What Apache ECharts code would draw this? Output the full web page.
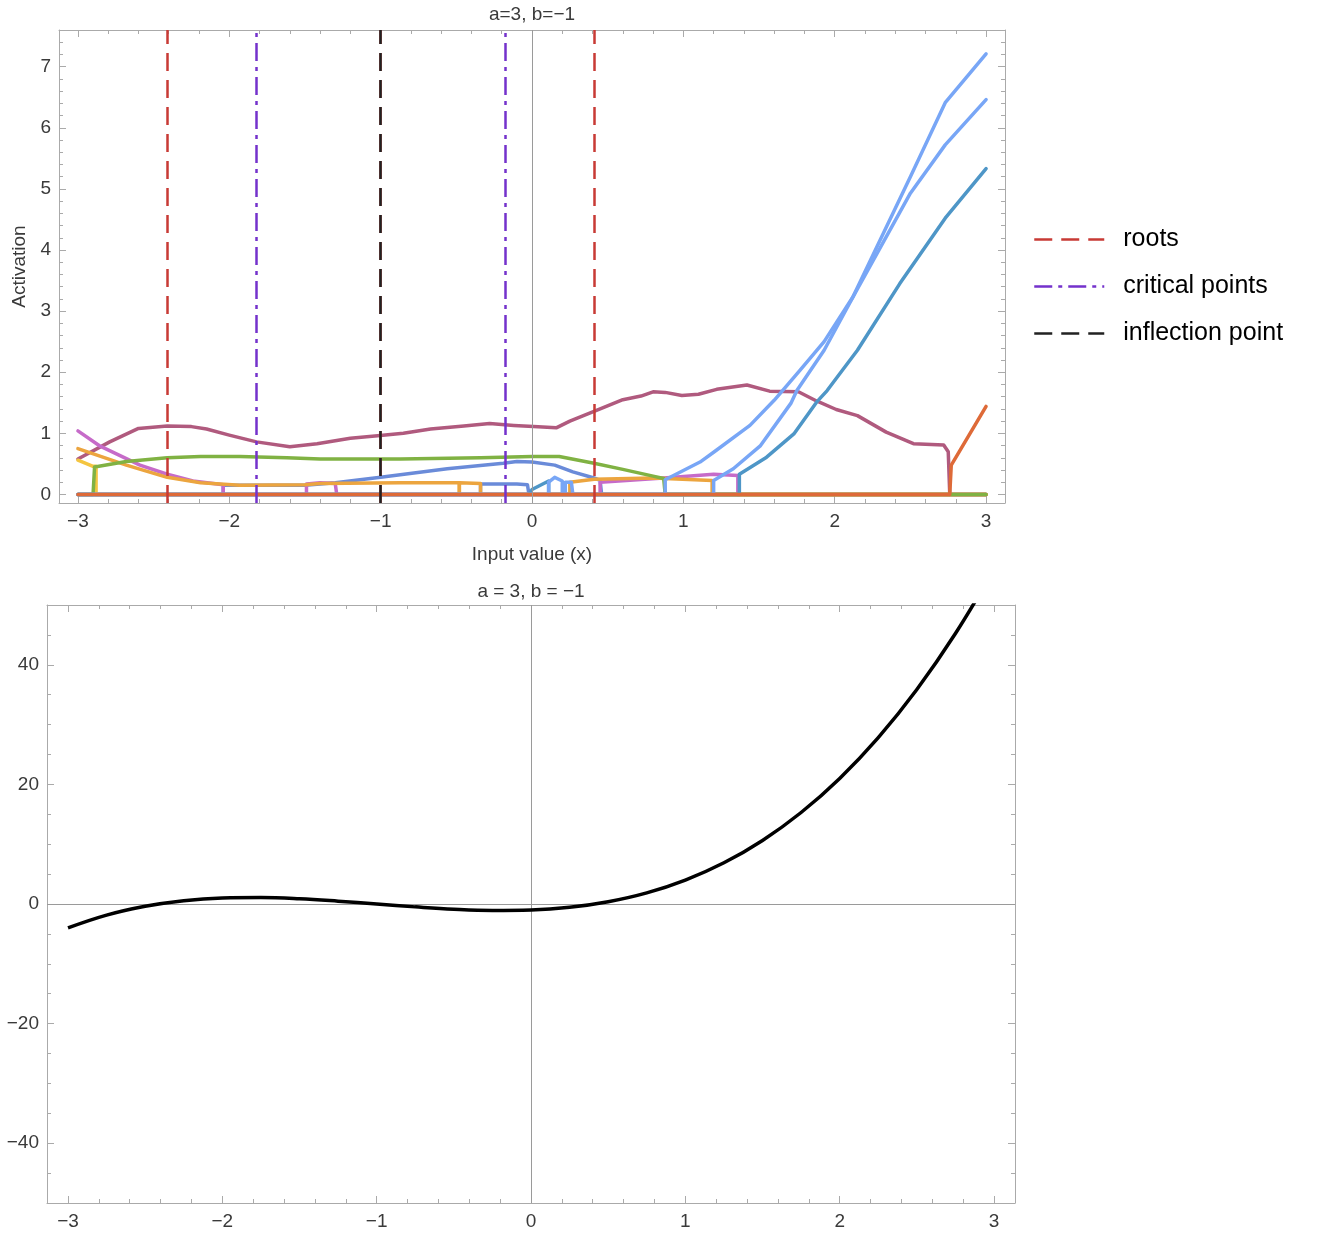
<!doctype html>
<html>
<head>
<meta charset="utf-8">
<title>activation plot</title>
<script src="https://cdn.jsdelivr.net/npm/echarts@6/dist/echarts.min.js"></script>
<style>
  html, body { margin: 0; padding: 0; background: #fff; }
  #main { width: 1318px; height: 1250px; }
</style>
</head>
<body>
<div id="main"></div>
<script>
// tick labels
var xTicks = [-3, -2, -1, 0, 1, 2, 3];
var yTicksTop = [0, 1, 2, 3, 4, 5, 6, 7];
var yTicksBottom = [-40, -20, 0, 20, 40];

// vertical reference lines (a=3, b=-1)
var roots = [-2.414, -1, 0.414];
var criticalPoints = [-1.816, -0.184];
var inflectionPoints = [-1];

// neuron activations, [x, y]
var mauve = [[-3.0, 0.58], [-2.79, 0.86], [-2.6, 1.08], [-2.41, 1.12], [-2.25, 1.11], [-2.15, 1.07], [-2.0, 0.97],
  [-1.82, 0.86], [-1.6, 0.78], [-1.42, 0.83], [-1.2, 0.92], [-1.02, 0.96], [-0.85, 1.0], [-0.67, 1.07], [-0.45, 1.12],
  [-0.28, 1.16], [-0.12, 1.13], [0.01, 1.11], [0.16, 1.09], [0.25, 1.2], [0.43, 1.38], [0.6, 1.55], [0.72, 1.61],
  [0.8, 1.68], [0.88, 1.67], [0.99, 1.62], [1.1, 1.64], [1.22, 1.72], [1.42, 1.79], [1.57, 1.69], [1.76, 1.68],
  [1.88, 1.53], [2.01, 1.39], [2.15, 1.29], [2.34, 1.02], [2.52, 0.83], [2.72, 0.81], [2.75, 0.7], [2.76, 0], [3.0, 0]];
var green = [[-3.0, 0], [-2.9, 0], [-2.89, 0.45], [-2.68, 0.54], [-2.41, 0.6], [-2.19, 0.62], [-1.93, 0.62], [-1.62, 0.6],
  [-1.4, 0.58], [-0.87, 0.58], [-0.34, 0.6], [0.0, 0.62], [0.18, 0.62], [0.41, 0.51], [0.6, 0.41], [0.8, 0.3],
  [0.87, 0.26], [0.88, 0], [3.0, 0]];
var pink = [[-3.0, 1.04], [-2.86, 0.8], [-2.59, 0.48], [-2.41, 0.33], [-2.24, 0.22], [-2.04, 0.16], [-2.04, 0],
  [-1.49, 0], [-1.49, 0.17], [-1.4, 0.19], [-1.3, 0.18], [-1.29, 0], [0.45, 0], [0.45, 0.2], [0.87, 0.27],
  [1.2, 0.33], [1.36, 0.31], [1.36, 0], [3.0, 0]];
var orange = [[-3.0, 0.75], [-2.68, 0.48], [-2.41, 0.28], [-2.19, 0.19], [-1.93, 0.15], [-1.5, 0.16], [-1.4, 0.18],
  [-0.87, 0.19], [-0.48, 0.19], [-0.48, 0], [3.0, 0]];
var orangeB = [[-3.0, 0], [-0.48, 0], [-0.48, 0.19], [-0.34, 0.18], [-0.34, 0], [0.25, 0], [0.25, 0.2], [0.41, 0.25],
  [0.8, 0.27], [1.19, 0.23], [1.19, 0], [3.0, 0]];
var yellow = [[-3.0, 0.56], [-2.9, 0.46], [-2.88, 0.46], [-2.88, 0], [3.0, 0]];
var blue = [[-3.0, 0], [-2.04, 0], [-2.04, 0.15], [-1.5, 0.15], [-1.3, 0.19], [-1.0, 0.28], [-0.56, 0.42],
  [-0.19, 0.51], [-0.1, 0.54], [0.0, 0.53], [0.15, 0.48], [0.27, 0.37], [0.41, 0.27], [0.45, 0.23], [0.46, 0], [3.0, 0]];
var blueB = [[-3.0, 0], [-0.34, 0], [-0.34, 0.17], [-0.1, 0.17], [-0.03, 0.16], [-0.02, 0], [3.0, 0]];
var steel = [[-3.0, 0], [-0.02, 0], [0.0, 0.08], [0.11, 0.22], [0.11, 0], [1.37, 0], [1.37, 0.33], [1.55, 0.61],
  [1.73, 0.99], [1.88, 1.51], [1.95, 1.7], [2.15, 2.36], [2.43, 3.45], [2.73, 4.52], [3.0, 5.33]];
var lightA = [[-3.0, 0], [0.11, 0], [0.11, 0.2], [0.15, 0.28], [0.2, 0.22], [0.2, 0], [0.88, 0], [0.88, 0.24],
  [1.11, 0.53], [1.2, 0.69], [1.44, 1.13], [1.6, 1.54], [1.77, 2.03], [1.93, 2.5], [2.12, 3.23], [2.5, 5.2],
  [2.73, 6.41], [3.0, 7.21]];
var lightB = [[-3.0, 0], [0.22, 0], [0.22, 0.2], [0.26, 0.2], [0.27, 0], [1.2, 0], [1.2, 0.23], [1.33, 0.42],
  [1.51, 0.8], [1.71, 1.49], [1.75, 1.7], [1.93, 2.36], [2.12, 3.23], [2.5, 4.93], [2.73, 5.72], [3.0, 6.46]];
var orangeRed = [[-3.0, 0], [2.76, 0], [2.77, 0.48], [3.0, 1.44]];

// the cubic in the lower panel
var cubicX = [-3, -2.75, -2.5, -2.25, -2, -1.75, -1.5, -1.25, -1, -0.75, -0.5, -0.25, 0,
  0.25, 0.5, 0.75, 1, 1.25, 1.5, 1.75, 2, 2.25, 2.5, 2.75, 3];
var cubicY = [-4, -1.86, -0.38, 0.55, 1, 1.08, 0.88, 0.48, 0, -0.48, -0.88, -1.08, -1,
  -0.55, 0.38, 1.86, 4, 6.89, 10.63, 15.3, 21, 27.83, 35.88, 45.23, 56];

var frameColor = '#aaaaaa';
var labelColor = '#3a3a3a';
var font = 'Liberation Sans, Arial, sans-serif';

function minorTicks(lo, hi, step) {
  var out = [];
  for (var k = Math.ceil(lo / step - 1e-9); k * step <= hi + 1e-9; k++) {
    out.push(Math.round(k * step * 1000) / 1000);
  }
  return out;
}

function fmt(v) {
  return String(v).replace('-', '\u2212');
}

// four framed sides, each with a major and a minor tick axis
function frameAxes(dim, grid, min, max, majors, minors, name, nameGap) {
  var sides = dim === 'x' ? ['bottom', 'top'] : ['left', 'right'];
  var out = [];
  sides.forEach(function (pos, k) {
    [[majors, 7], [minors, 4]].forEach(function (t, j) {
      var ax = {
        type: 'value', gridIndex: grid, position: pos, min: min, max: max,
        axisLine: { show: j === 0, onZero: false, lineStyle: { color: frameColor, width: 1 } },
        axisTick: { show: true, inside: true, length: t[1], customValues: t[0], lineStyle: { color: frameColor } },
        axisLabel: { show: k === 0 && j === 0, customValues: majors, formatter: fmt, color: labelColor,
          fontSize: 19, fontFamily: font, margin: dim === 'x' ? 9 : 8 },
        splitLine: { show: false }
      };
      if (k === 0 && j === 0 && name) {
        ax.name = name;
        ax.nameLocation = 'middle';
        ax.nameGap = nameGap;
        ax.nameTextStyle = { color: labelColor, fontSize: 19, fontFamily: font };
      }
      out.push(ax);
    });
  });
  return out;
}

var xTopMin = -3.125, xTopMax = 3.125, yTopMin = -0.14, yTopMax = 7.6;
var xBotMin = -3.136, xBotMax = 3.136, yBotMin = -50, yBotMax = 50;

var xAxes = frameAxes('x', 0, xTopMin, xTopMax, xTicks, minorTicks(xTopMin, xTopMax, 0.2), 'Input value (x)', 42)
  .concat(frameAxes('x', 1, xBotMin, xBotMax, xTicks, minorTicks(xBotMin, xBotMax, 0.2)));
var yAxes = frameAxes('y', 0, yTopMin, yTopMax, yTicksTop, minorTicks(yTopMin, yTopMax, 0.2), 'Activation', 28)
  .concat(frameAxes('y', 1, yBotMin, yBotMax, yTicksBottom, minorTicks(yBotMin, yBotMax, 5)));

function neuron(data, color) {
  return {
    type: 'line', data: data, xAxisIndex: 0, yAxisIndex: 0,
    symbol: 'none', silent: true,
    lineStyle: { color: color, width: 3.5, join: 'round', cap: 'round' },
    itemStyle: { color: color }
  };
}

function refLine(name, xs, color, dash) {
  return {
    type: 'line', name: name, data: [], xAxisIndex: 0, yAxisIndex: 0, z: 5,
    symbol: 'none',
    lineStyle: { color: color, width: 2.5, type: dash },
    itemStyle: { color: color },
    markLine: {
      silent: true, symbol: ['none', 'none'], label: { show: false },
      lineStyle: { color: color, width: 2.5, type: dash },
      data: xs.map(function (v) { return { xAxis: v }; })
    }
  };
}

var cubicData = cubicX.map(function (x, i) { return [x, cubicY[i]]; });

var option = {
  animation: false,
  title: [
    { text: 'a=3, b=\u22121', left: 532, top: 5, padding: 0, textAlign: 'center',
      textStyle: { color: labelColor, fontSize: 19, fontWeight: 'normal', fontFamily: font } },
    { text: 'a = 3, b = \u22121', left: 531, top: 582, padding: 0, textAlign: 'center',
      textStyle: { color: labelColor, fontSize: 19, fontWeight: 'normal', fontFamily: font } }
  ],
  legend: {
    orient: 'vertical', left: 1033, top: 227, padding: 0,
    itemWidth: 70, itemHeight: 14, itemGap: 22,
    data: ['roots', 'critical points', 'inflection point'],
    lineStyle: { width: 2.5 },
    itemStyle: { opacity: 0 },
    textStyle: { color: '#000', fontSize: 25, lineHeight: 25, fontFamily: font, padding: [0, 0, 0, 14] }
  },
  grid: [
    { left: 59, right: 313, top: 30, bottom: 747 },
    { left: 47, right: 303, top: 605, bottom: 47 }
  ],
  xAxis: xAxes,
  yAxis: yAxes,
  series: [
    // x = 0 axis in the upper panel
    { type: 'line', data: [], xAxisIndex: 0, yAxisIndex: 0, z: 1,
      markLine: { silent: true, symbol: ['none', 'none'], label: { show: false },
        lineStyle: { color: '#9a9a9a', width: 1, type: 'solid' }, data: [{ xAxis: 0 }] } },
    neuron(mauve, '#b05a7e'),
    neuron(blue, '#6a8bd9'),
    neuron(blueB, '#6a8bd9'),
    neuron(yellow, '#f4c540'),
    neuron(pink, '#c66bc9'),
    neuron(orange, '#eca53f'),
    neuron(orangeB, '#eca53f'),
    neuron(green, '#80b243'),
    neuron(steel, '#4e96c7'),
    neuron(lightA, '#78a6f6'),
    neuron(lightB, '#78a6f6'),
    neuron(orangeRed, '#de6a38'),
    refLine('roots', roots, '#c83a35', [18, 9]),
    refLine('critical points', criticalPoints, '#7432cc', [18, 6, 4, 6]),
    refLine('inflection point', inflectionPoints, '#222222', [18, 9]),
    // lower panel: the cubic itself
    {
      type: 'line', data: cubicData, xAxisIndex: 4, yAxisIndex: 4,
      symbol: 'none', smooth: 0.4, silent: true,
      lineStyle: { color: '#000', width: 3.5 },
      markLine: { silent: true, symbol: ['none', 'none'], label: { show: false }, z: 1,
        lineStyle: { color: '#9a9a9a', width: 1, type: 'solid' },
        data: [{ xAxis: 0 }, { yAxis: 0 }] }
    }
  ]
};

var myChart = echarts.init(document.getElementById('main'));
myChart.setOption(option);
</script>
</body>
</html>
